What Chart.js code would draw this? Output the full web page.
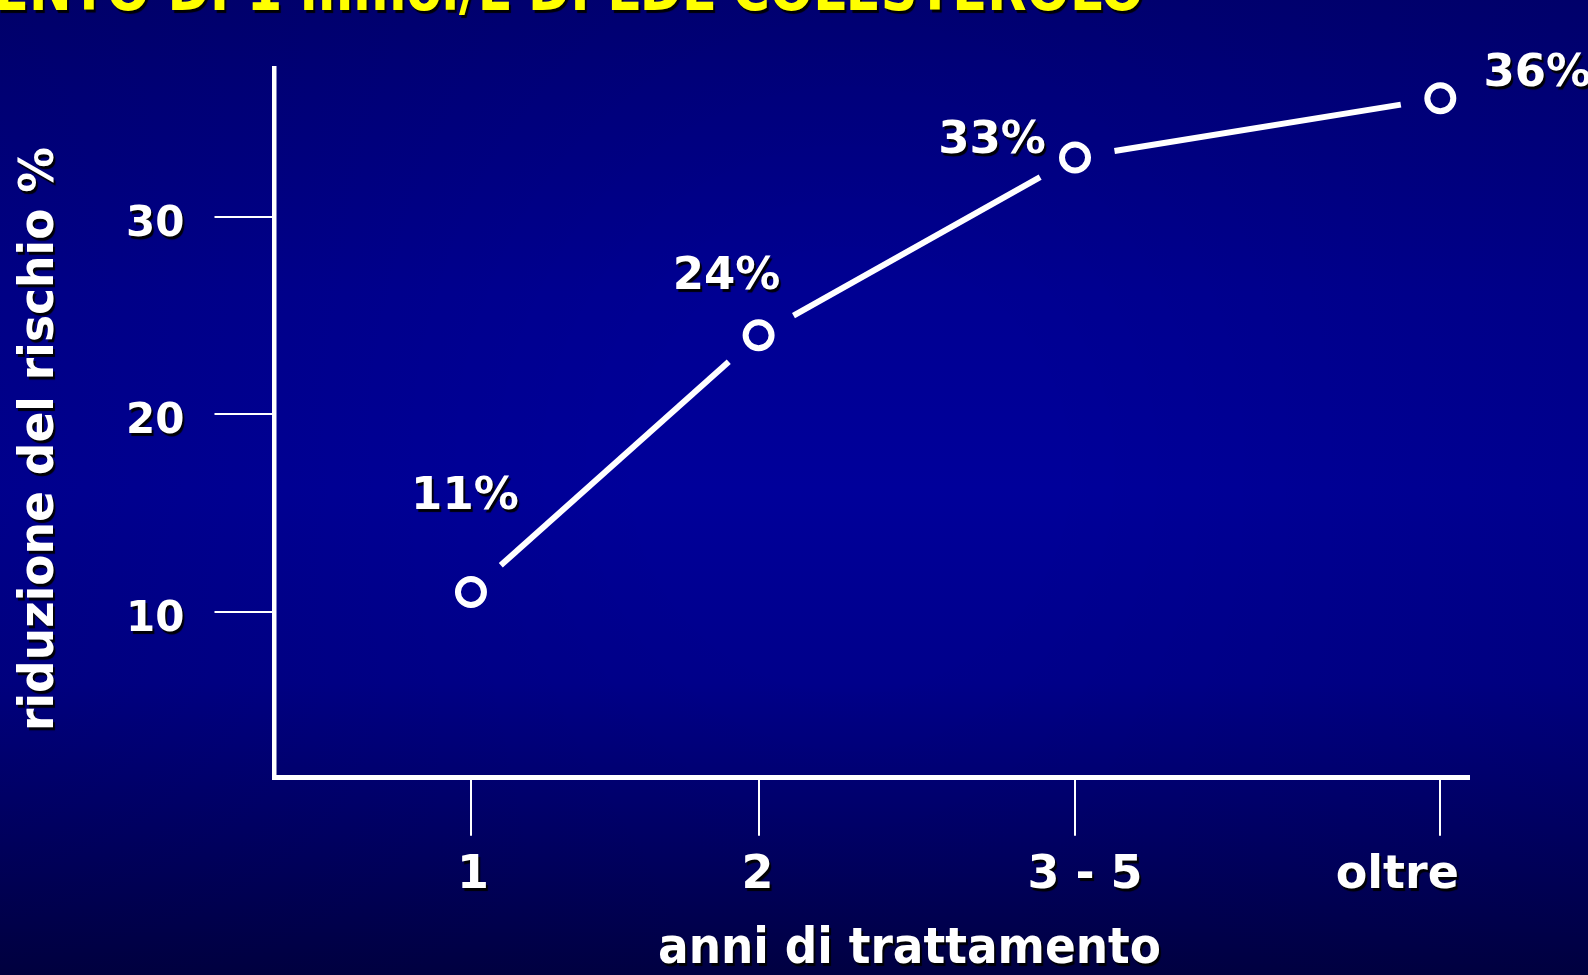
<!DOCTYPE html>
<html>
<head>
<meta charset="utf-8">
<script src="https://cdn.jsdelivr.net/npm/chart.js@4/dist/chart.umd.min.js"></script>
<style>
  html, body { margin: 0; padding: 0; background: #000070; overflow: hidden; }
  canvas { display: block; }
</style>
</head>
<body>
<canvas id="grafico" width="1588" height="975"></canvas>
<script>
// Anni di trattamento: etichette e posizione sull'asse orizzontale
const anniLabels = ['1', '2', '3 - 5', 'oltre'];
const anniX = [1, 2, 3.1, 4.37];
// Riduzione del rischio (%) per ciascun periodo
const riduzione = [11, 24, 33, 36];
// Tacche dell'asse verticale
const yTicks = [10, 20, 30];

const titolo = 'ENTO DI 1 mmol/L DI LDL COLESTEROLO';
const titoloX = 'anni di trattamento';
const titoloY = 'riduzione del rischio %';

const FONT = '"DejaVu Sans", "Open Sans", sans-serif';

function setShadow(ctx) {
  ctx.shadowColor = 'rgba(0,0,0,0.95)';
  ctx.shadowOffsetX = 2;
  ctx.shadowOffsetY = 3;
  ctx.shadowBlur = 1;
}

// Testo con ombra, eventualmente compresso orizzontalmente a una larghezza data
function drawText(ctx, text, x, y, opts) {
  const o = Object.assign({ size: 44, weight: 'bold', color: '#fff', align: 'center',
    baseline: 'middle', width: null, rotate: 0 }, opts);
  ctx.save();
  ctx.font = o.weight + ' ' + o.size + 'px ' + FONT;
  const w = ctx.measureText(text).width;
  const sx = o.width ? o.width / w : 1;
  setShadow(ctx);
  ctx.translate(x, y);
  if (o.rotate) ctx.rotate(o.rotate);
  ctx.scale(sx, 1);
  ctx.fillStyle = o.color;
  ctx.textAlign = o.align;
  ctx.textBaseline = o.baseline;
  ctx.fillText(text, 0, 0);
  ctx.restore();
}

const sfondo = {
  id: 'sfondo',
  beforeDraw(chart) {
    const { ctx, width, height } = chart;
    ctx.save();
    const g = ctx.createLinearGradient(0, 0, 0, height);
    g.addColorStop(0, '#000074');
    g.addColorStop(0.1, '#00007f');
    g.addColorStop(0.3, '#000092');
    g.addColorStop(0.5, '#00009a');
    g.addColorStop(0.7, '#00008a');
    g.addColorStop(0.85, '#000068');
    g.addColorStop(1, '#000044');
    ctx.fillStyle = g;
    ctx.fillRect(0, 0, width, height);
    const r = ctx.createRadialGradient(850, 470, 200, 850, 470, 1000);
    r.addColorStop(0, 'rgba(0,0,0,0)');
    r.addColorStop(1, 'rgba(0,0,20,0.12)');
    ctx.fillStyle = r;
    ctx.fillRect(0, 0, width, height);
    ctx.restore();

    // ombra sulle etichette dell'asse verticale
    const s = chart.scales.y;
    if (s && !s._conOmbra) {
      const orig = s.drawLabels;
      s.drawLabels = function (area) {
        this.ctx.save();
        setShadow(this.ctx);
        orig.call(this, area);
        this.ctx.restore();
      };
      s._conOmbra = true;
    }
  }
};

// Segmenti tra i punti, interrotti in prossimità dei marcatori
const segmenti = {
  id: 'segmenti',
  afterDatasetsDraw(chart) {
    const pts = chart.getDatasetMeta(0).data;
    const ctx = chart.ctx;
    const gap = 40;
    ctx.save();
    ctx.strokeStyle = '#ffffff';
    ctx.lineWidth = 6;
    ctx.lineCap = 'butt';
    for (let i = 0; i < pts.length - 1; i++) {
      const a = pts[i], b = pts[i + 1];
      const dx = b.x - a.x, dy = b.y - a.y;
      const len = Math.hypot(dx, dy);
      const ux = dx / len, uy = dy / len;
      ctx.beginPath();
      ctx.moveTo(a.x + ux * gap, a.y + uy * gap);
      ctx.lineTo(b.x - ux * gap, b.y - uy * gap);
      ctx.stroke();
    }
    ctx.restore();
  }
};

// Testi: titolo, titoli degli assi, etichette dell'asse x e valori percentuali
const testi = {
  id: 'testi',
  afterDraw(chart) {
    const ctx = chart.ctx;
    const sx = chart.scales.x;
    const pts = chart.getDatasetMeta(0).data;

    drawText(ctx, titolo, -6, 10, { size: 58, color: '#ffff00', align: 'left',
      baseline: 'alphabetic', width: 1150 });

    drawText(ctx, titoloY, 40.5, 439, { size: 48, rotate: -Math.PI / 2, width: 584 });
    drawText(ctx, titoloX, 909.5, 950, { size: 50, width: 503 });

    const spostamento = [2, -1, 10, -43];
    anniLabels.forEach((lab, i) => {
      drawText(ctx, lab, sx.getPixelForValue(anniX[i]) + spostamento[i], 876, { size: 46 });
    });

    const posEtichette = [[-6, -95], [-32, -58], [-83, -16], [97, -24]];
    riduzione.forEach((v, i) => {
      const p = pts[i];
      drawText(ctx, v + '%', p.x + posEtichette[i][0], p.y + posEtichette[i][1], { size: 45 });
    });
  }
};

new Chart(document.getElementById('grafico'), {
  type: 'line',
  data: {
    datasets: [{
      data: anniX.map((x, i) => ({ x, y: riduzione[i] })),
      showLine: false,
      pointStyle: 'circle',
      pointRadius: 13,
      pointHoverRadius: 13,
      pointBorderWidth: 6,
      pointBorderColor: '#ffffff',
      pointBackgroundColor: 'rgba(0,0,0,0)',
      clip: false
    }]
  },
  options: {
    responsive: false,
    animation: false,
    devicePixelRatio: 1,
    events: [],
    layout: { padding: { top: 68, right: 119.5, left: 0, bottom: 0 } },
    plugins: { legend: { display: false }, tooltip: { enabled: false } },
    scales: {
      x: {
        type: 'linear',
        min: 0.317,
        max: 4.468,
        afterBuildTicks: s => { s.ticks = anniX.map(v => ({ value: v })); },
        afterFit: s => { s.height = 975 - 777.8; },
        grid: { drawOnChartArea: false, drawTicks: true, tickLength: 58, color: '#ffffff', lineWidth: 2 },
        border: { display: true, color: '#ffffff', width: 5 },
        ticks: { color: 'rgba(0,0,0,0)', font: { size: 10 }, callback: (v, i) => anniLabels[i] }
      },
      y: {
        type: 'linear',
        min: 1.59,
        max: 37.53,
        afterBuildTicks: s => { s.ticks = yTicks.map(v => ({ value: v })); },
        afterFit: s => { s.width = 274.5; },
        grid: { drawOnChartArea: false, drawTicks: true, tickLength: 60, color: '#ffffff', lineWidth: 2 },
        border: { display: true, color: '#ffffff', width: 4.5 },
        ticks: {
          color: '#ffffff',
          font: { family: FONT, size: 42, weight: 'bold' },
          padding: 30,
          labelOffset: 8
        }
      }
    }
  },
  plugins: [sfondo, segmenti, testi]
});
</script>
</body>
</html>
